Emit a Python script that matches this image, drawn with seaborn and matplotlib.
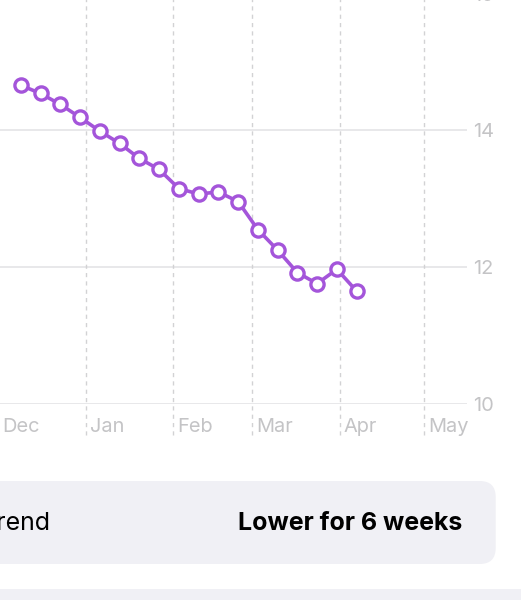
import numpy as np
import pandas as pd
import matplotlib
matplotlib.use("Agg")
import matplotlib.pyplot as plt
import matplotlib.dates as mdates
from matplotlib.patches import FancyBboxPatch
from matplotlib.transforms import IdentityTransform
import seaborn as sns

# ---- data ----
start_date = "2022-12-09"
n_weeks = 18
values = [14.66, 14.54, 14.38, 14.19, 13.99, 13.81, 13.59, 13.43, 13.15,
          13.07, 13.10, 12.96, 12.55, 12.25, 11.92, 11.76, 11.97, 11.65]
month_starts = ["2022-12-01", "2023-01-01", "2023-02-01", "2023-03-01",
                "2023-04-01", "2023-05-01"]
month_labels = ["Dec", "Jan", "Feb", "Mar", "Apr", "May"]
y_ticks = [10, 12, 14, 16]
trend_label = "Trend"
trend_value = "Lower for 6 weeks"

dates = pd.date_range(start_date, periods=n_weeks, freq="7D")
df = pd.DataFrame({"date": dates, "value": values})

sns.set_theme(style="white")
plt.rcParams["font.family"] = ["Inter", "DejaVu Sans"]

W, H = 521, 600
fig = plt.figure(figsize=(W / 100, H / 100), dpi=100)
fig.patch.set_facecolor("white")

# axes: bottom at y=404 px (from top), top at the 16 gridline (~-6.4 px)
ax_bottom = (H - 404) / H
ax_height = 410.4 / H
ax = fig.add_axes([0, ax_bottom, 467 / W, ax_height])
ax.set_facecolor("none")

purple = "#A455DA"
sns.lineplot(data=df, x="date", y="value", ax=ax, color=purple, linewidth=2.6,
             marker="o", markersize=9.5, markerfacecolor="white",
             markeredgecolor=purple, markeredgewidth=2.4, zorder=5)

ax.set_ylim(10, 16)
xl = pd.Timestamp("2022-12-01") + pd.Timedelta(days=0.64)
xr = pd.Timestamp("2023-05-01") + pd.Timedelta(days=15.1)
ax.set_xlim(xl, xr)

for s in ax.spines.values():
    s.set_visible(False)
ax.set_xlabel("")
ax.set_ylabel("")

# horizontal grid
ax.set_yticks(y_ticks)
ax.yaxis.tick_right()
ax.tick_params(axis="y", length=0, pad=4.3, labelsize=14.4, labelcolor="#C4C4C6")
for t in ax.get_yticklabels():
    t.set_ha("left")
for yv in y_ticks:
    ax.axhline(yv, color="#E4E4E6", linewidth=1.2, zorder=1)

# vertical dashed month lines + labels
ax.set_xticks([])
for ms, lab in zip(month_starts, month_labels):
    d = pd.Timestamp(ms)
    ax.axvline(d, ymin=-31 / 410.4, ymax=1, color="#D2D2D4", linewidth=1.0,
               linestyle=(0, (3, 3)), clip_on=False, zorder=1)
    ax.annotate(lab, xy=(mdates.date2num(d), 0), xycoords=("data", "axes fraction"),
                xytext=(2.9, -16.6), textcoords="offset points",
                ha="left", va="center", fontsize=14.4, color="#C4C4C6",
                annotation_clip=False)

# bottom panels (pixel coordinates, origin bottom-left)
box_col = "#F0F0F5"
p1 = FancyBboxPatch((-40, H - 564), 495.7 + 40, 83,
                    boxstyle="round,pad=0,rounding_size=16",
                    transform=IdentityTransform(), facecolor=box_col,
                    edgecolor="none")
p2 = FancyBboxPatch((-40, -30), W + 80, 41,
                    boxstyle="round,pad=0,rounding_size=16",
                    transform=IdentityTransform(), facecolor=box_col,
                    edgecolor="none")
fig.patches.extend([p1, p2])

fig.text(51 / W, (H - 524) / H, trend_label, ha="right", va="center",
         fontsize=18, color="black")
fig.text(462.7 / W, (H - 524) / H, trend_value, ha="right", va="center",
         fontsize=18, color="black", fontweight="bold")

fig.savefig("out.png", dpi=100)
